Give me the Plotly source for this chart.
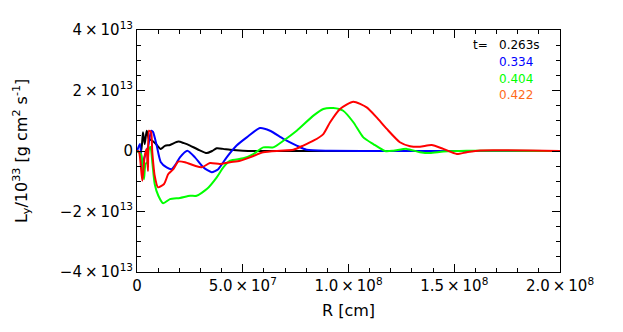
import plotly.graph_objects as go

# R in units of 1e6 cm, L in units of 1e13
r_black = [0, 1.75, 2.84, 3.64, 4.59, 5.67, 7.23, 8.98, 11.2, 13.2, 15.6, 19.5, 22.2, 25.1, 28.8, 33.0, 35.5, 37.7, 40.7, 44.0, 50.1, 58, 100, 150, 200]
l_black = [0, -0.04, 0.62, 0.23, 0.67, 0.40, 0.34, 0.23, 0.07, 0.17, 0.20, 0.31, 0.26, 0.18, 0.05, -0.07, 0.0, 0.09, 0.07, 0.04, 0.01, 0, 0, 0, 0]

r_blue = [0, 1.42, 2.51, 3.31, 5.2, 6.76, 7.56, 9.31, 11.2, 14.0, 16.4, 18.4, 20.3, 23.8, 27.4, 31.3, 35.3, 38.4, 42.4, 47.1, 51.9, 58.2, 62.9, 69.2, 75.5, 80.2, 91.3, 120, 160, 200]
l_blue = [0, 0.23, -0.70, -0.26, 0.13, 0.67, 0.63, 0.18, -0.36, -0.54, -0.60, -0.43, -0.21, 0.01, -0.21, -0.54, -0.70, -0.60, -0.21, 0.18, 0.45, 0.76, 0.67, 0.40, 0.18, 0.04, 0.01, 0, 0, 0]

r_green = [0, 1.9, 3.31, 4.0, 4.87, 5.67, 6.38, 7.33, 8.37, 10.1, 12.4, 15.6, 20.3, 25.1, 28.2, 33.0, 37.7, 40.8, 44.0, 50.3, 55.0, 59.7, 64.4, 69.2, 75.5, 83.4, 88.1, 92.8, 97.5, 102.3, 107.0, 111.7, 117.3, 121.2, 127.5, 133.8, 138.5, 144.8, 155.9, 200]
l_green = [0, -0.10, -0.93, -0.43, -0.37, 0.07, 0.13, -0.43, -1.09, -1.48, -1.73, -1.59, -1.55, -1.48, -1.48, -1.26, -0.87, -0.54, -0.32, -0.24, -0.10, 0.12, 0.12, 0.34, 0.67, 1.17, 1.39, 1.42, 1.33, 0.95, 0.45, 0.23, 0.0, 0.01, 0.07, -0.04, -0.07, -0.02, 0.01, 0]

r_red = [0, 0.95, 2.51, 3.64, 4.5, 5.2, 5.67, 6.62, 7.23, 8.37, 9.93, 12.8, 14.8, 17.2, 19.5, 22.7, 27.4, 30.6, 34.5, 39.2, 44.0, 48.7, 53.4, 59.7, 67.6, 73.9, 78.6, 83.4, 88.1, 91.3, 96.0, 102.3, 108.6, 113.3, 118.1, 124.3, 129.1, 133.8, 139.3, 144.8, 151.2, 155.9, 162.2, 200]
l_red = [0, -0.03, -0.98, -0.16, 0.07, -0.66, 0.67, 0.63, -0.04, -0.82, -1.20, -1.09, -0.76, -0.60, -0.35, -0.37, -0.49, -0.54, -0.40, -0.43, -0.37, -0.32, -0.21, -0.04, 0.01, 0.04, 0.18, 0.34, 0.56, 0.95, 1.39, 1.63, 1.44, 1.11, 0.73, 0.29, 0.16, 0.14, 0.20, 0.07, -0.10, -0.04, 0.02, 0]

times = ["0.263s", "0.334", "0.404", "0.422"]
line_colors = ["#000000", "#0000ff", "#00ff00", "#ff0000"]
label_colors = ["#000000", "#0000ff", "#00ff00", "#ff6a1a"]

S = "\u2009"
x_tickvals = [0, 5e7, 1e8, 1.5e8, 2e8]
x_ticktext = ["0", f"5.0{S}×{S}10<sup>7</sup>", f"1.0{S}×{S}10<sup>8</sup>",
              f"1.5{S}×{S}10<sup>8</sup>", f"2.0{S}×{S}10<sup>8</sup>"]
y_tickvals = [-4e13, -2e13, 0, 2e13, 4e13]
y_ticktext = [f"−4{S}×{S}10<sup>13</sup>", f"−2{S}×{S}10<sup>13</sup>", "0",
              f"2{S}×{S}10<sup>13</sup>", f"4{S}×{S}10<sup>13</sup>"]

FONT = "DejaVu Sans"

fig = go.Figure()
series = [(r_black, l_black), (r_blue, l_blue), (r_green, l_green), (r_red, l_red)]
for (rs, ls), c in zip(series, line_colors):
    fig.add_trace(go.Scatter(
        x=[r * 1e6 for r in rs], y=[v * 1e13 for v in ls], mode="lines",
        line=dict(color=c, width=2, shape="spline", smoothing=0.6),
        showlegend=False, hoverinfo="skip"))

axis_common = dict(showline=True, linecolor="black", linewidth=1, mirror="ticks",
                   ticks="inside", ticklen=8, tickcolor="black", showgrid=False,
                   zeroline=False, automargin=False,
                   tickfont=dict(family=FONT, size=15, color="black"))

fig.update_xaxes(range=[0, 2e8], tickvals=x_tickvals, ticktext=x_ticktext,
                 minor=dict(dtick=1e7, tick0=0, ticks="inside", ticklen=4, tickcolor="black"),
                 **axis_common)
fig.update_yaxes(range=[-4e13, 4e13], tickvals=y_tickvals, ticktext=y_ticktext,
                 minor=dict(dtick=0.5e13, tick0=0, ticks="inside", ticklen=4, tickcolor="black"),
                 **axis_common)

fig.add_annotation(x=0.5, y=-0.112, xref="paper", yref="paper", text="R [cm]", showarrow=False,
                   xanchor="center", yanchor="top", font=dict(family=FONT, size=16, color="black"))
fig.add_annotation(x=-0.274, y=0.5, xref="paper", yref="paper",
                   text="L<sub>y</sub>/10<sup>33</sup> [g cm<sup>2</sup> s<sup>-1</sup>]",
                   showarrow=False, textangle=-90, xanchor="center", yanchor="middle",
                   font=dict(family=FONT, size=16, color="black"))

fig.add_annotation(x=0.79, y=0.938, xref="paper", yref="paper", text="t=", showarrow=False,
                   xanchor="left", yanchor="middle", font=dict(family=FONT, size=12, color="black"))
ypos = [0.938, 0.866, 0.799, 0.733]
for t, c, yp in zip(times, label_colors, ypos):
    fig.add_annotation(x=0.851, y=yp, xref="paper", yref="paper", text=t, showarrow=False,
                       xanchor="left", yanchor="middle", font=dict(family=FONT, size=12, color=c))

# page body has an 8px margin, so the figure is sized/offset to place the frame correctly
fig.update_layout(width=615, height=324, margin=dict(l=129, r=63, t=22, b=60),
                  paper_bgcolor="white", plot_bgcolor="white")

fig.write_html("out.html")
